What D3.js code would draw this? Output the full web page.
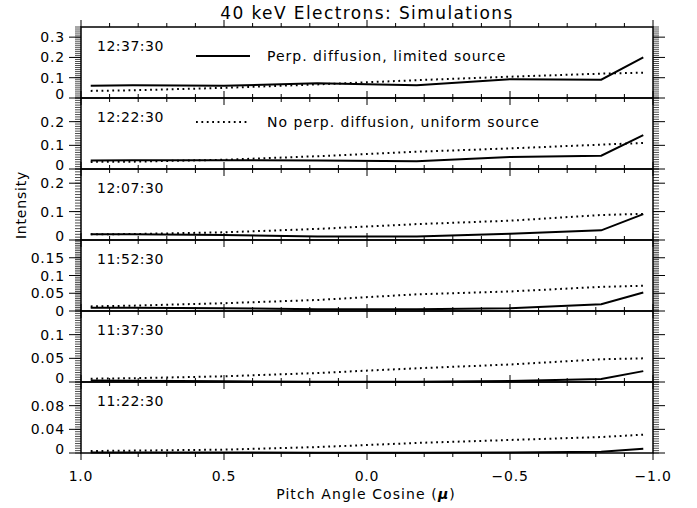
<!DOCTYPE html>
<html><head><meta charset="utf-8">
<script src="https://cdn.jsdelivr.net/npm/d3@7/dist/d3.min.js"></script>
<style>body{margin:0;background:#fff}svg{display:block}text{font-family:"DejaVu Sans",sans-serif;fill:#000}</style>
</head><body>
<script>
// ---- data ----
const mu = [0.966, 0.819, 0.5, 0.174, -0.174, -0.5, -0.819, -0.966];
const times = ["12:37:30","12:22:30","12:07:30","11:52:30","11:37:30","11:22:30"];
const yMax = [0.35, 0.3, 0.25, 0.2, 0.15, 0.12];
const yTickVals = [[0,0.1,0.2,0.3],[0,0.1,0.2],[0,0.1,0.2],[0,0.05,0.1,0.15],[0,0.05,0.1],[0,0.04,0.08]];
const yTickLabels = [["0","0.1","0.2","0.3"],["0","0.1","0.2"],["0","0.1","0.2"],["0","0.05","0.1","0.15"],["0","0.05","0.1"],["0","0.04","0.08"]];
const perpLimited = [
  [0.060, 0.063, 0.060, 0.073, 0.063, 0.093, 0.090, 0.200],
  [0.036, 0.037, 0.037, 0.036, 0.033, 0.051, 0.056, 0.143],
  [0.020, 0.020, 0.018, 0.012, 0.012, 0.022, 0.034, 0.091],
  [0.0094, 0.009, 0.008, 0.005, 0.005, 0.0075, 0.019, 0.052],
  [0.003, 0.0025, 0.0015, 0.0007, 0.0007, 0.002, 0.0065, 0.023],
  [0.001, 0.001, 0.0008, 0.0005, 0.0005, 0.001, 0.002, 0.007]
];
const noPerpUniform = [
  [0.035, 0.038, 0.050, 0.067, 0.088, 0.105, 0.120, 0.125],
  [0.030, 0.031, 0.039, 0.054, 0.073, 0.087, 0.103, 0.110],
  [0.020, 0.021, 0.027, 0.039, 0.056, 0.068, 0.088, 0.092],
  [0.013, 0.015, 0.022, 0.031, 0.047, 0.055, 0.068, 0.071],
  [0.007, 0.008, 0.012, 0.019, 0.029, 0.037, 0.048, 0.050],
  [0.0034, 0.004, 0.0057, 0.010, 0.017, 0.022, 0.027, 0.031]
];
const xMajor = [1.0, 0.5, 0.0, -0.5, -1.0];
const xMajorLabels = ["1.0","0.5","0.0","\u22120.5","\u22121.0"];
const legendLabels = ["Perp. diffusion, limited source","No perp. diffusion, uniform source"];

// ---- layout ----
const W = 697, H = 508;
const pL = 81, pR = 653, pTop = 27, pBot = 453;
const nP = times.length;
const ph = (pBot - pTop) / nP;

const svg = d3.select("body").append("svg").attr("width", W).attr("height", H);
const x = d3.scaleLinear().domain([1, -1]).range([pL, pR]);
const xMinor = d3.range(-10, 11).map(d => d / 10);
const isMajX = d => Math.abs(d * 2 - Math.round(d * 2)) < 1e-6;

svg.append("text").attr("x", 367).attr("y", 19).attr("text-anchor", "middle")
  .attr("font-size", 17).attr("letter-spacing", 1.4).text("40 keV Electrons: Simulations");

for (let i = 0; i < nP; i++) {
  const pt = pTop + i * ph, pb = pt + ph;
  const y = d3.scaleLinear().domain([0, yMax[i]]).range([pb, pt]);
  const g = svg.append("g");
  const major = yTickVals[i][1] - yTickVals[i][0];
  const minorStep = major / 10;
  const nMin = Math.floor(yMax[i] / minorStep + 1e-6);
  const minors = d3.range(0, nMin + 1).map(k => k * minorStep);
  const tickGap = y(0) - y(major);
  const zeroShift = tickGap < 20 ? 5 : 1;
  g.selectAll(".ml").data(minors).join("line")
    .attr("x1", pL - 6).attr("x2", pL).attr("y1", d => y(d)).attr("y2", d => y(d))
    .attr("stroke", "#000").attr("stroke-width", 0.7);
  g.selectAll(".mr").data(minors).join("line")
    .attr("x1", pR).attr("x2", pR + 6).attr("y1", d => y(d)).attr("y2", d => y(d))
    .attr("stroke", "#000").attr("stroke-width", 0.7);
  g.selectAll(".Ml").data(yTickVals[i]).join("line")
    .attr("x1", pL - 12).attr("x2", pL).attr("y1", d => y(d)).attr("y2", d => y(d))
    .attr("stroke", "#000").attr("stroke-width", 1);
  g.selectAll(".Mr").data(yTickVals[i]).join("line")
    .attr("x1", pR).attr("x2", pR + 12).attr("y1", d => y(d)).attr("y2", d => y(d))
    .attr("stroke", "#000").attr("stroke-width", 1);
  g.selectAll(".yl").data(yTickVals[i]).join("text")
    .attr("x", pL - 16).attr("y", d => y(d) + (d === 0 ? zeroShift : 5)).attr("text-anchor", "end")
    .attr("font-size", 14).attr("letter-spacing", 0.8).text((d, k) => yTickLabels[i][k]);
  g.selectAll(".xb").data(xMinor).join("line")
    .attr("x1", d => x(d)).attr("x2", d => x(d)).attr("y1", pb)
    .attr("y2", d => pb + (isMajX(d) ? 7 : 4))
    .attr("stroke", "#000").attr("stroke-width", 1);
  g.selectAll(".xt").data(xMinor).join("line")
    .attr("x1", d => x(d)).attr("x2", d => x(d)).attr("y1", pt)
    .attr("y2", d => pt - (isMajX(d) ? 7 : 4))
    .attr("stroke", "#000").attr("stroke-width", 1);
  g.append("rect").attr("x", pL).attr("y", pt).attr("width", pR - pL).attr("height", ph)
    .attr("fill", "none").attr("stroke", "#000").attr("stroke-width", 1.5);
  const line = d3.line().x((d, k) => x(mu[k])).y(d => y(d));
  g.append("path").attr("d", line(noPerpUniform[i])).attr("fill", "none")
    .attr("stroke", "#000").attr("stroke-width", 2).attr("stroke-dasharray", "1.8,3.6");
  g.append("path").attr("d", line(perpLimited[i])).attr("fill", "none")
    .attr("stroke", "#000").attr("stroke-width", 2);
  g.append("text").attr("x", 97).attr("y", pt + 24).attr("font-size", 14)
    .attr("letter-spacing", 0.5).text(times[i]);
}

const lg = [[0, pTop + 29, null], [1, pTop + ph + 24, "1.8,3.6"]];
lg.forEach(([k, ly, dash]) => {
  const l = svg.append("line").attr("x1", 196).attr("x2", 250).attr("y1", ly).attr("y2", ly)
    .attr("stroke", "#000").attr("stroke-width", 2);
  if (dash) l.attr("stroke-dasharray", dash);
  svg.append("text").attr("x", 267).attr("y", ly + 5).attr("font-size", 14)
    .attr("letter-spacing", 1).text(legendLabels[k]);
});

svg.selectAll(".xl").data(xMajor).join("text")
  .attr("x", d => x(d)).attr("y", pBot + 28).attr("text-anchor", "middle")
  .attr("font-size", 14).attr("letter-spacing", 0.8).text((d, k) => xMajorLabels[k]);
const xt = svg.append("text").attr("x", 366).attr("y", pBot + 46).attr("text-anchor", "middle")
  .attr("font-size", 14).attr("letter-spacing", 1.1);
xt.append("tspan").text("Pitch Angle Cosine (");
xt.append("tspan").attr("font-style", "italic").attr("font-weight", "bold").text("\u03bc");
xt.append("tspan").text(")");
svg.append("text").attr("transform", "translate(26,205) rotate(-90)").attr("text-anchor", "middle")
  .attr("font-size", 14).attr("letter-spacing", 0.8).text("Intensity");
</script>
</body></html>
